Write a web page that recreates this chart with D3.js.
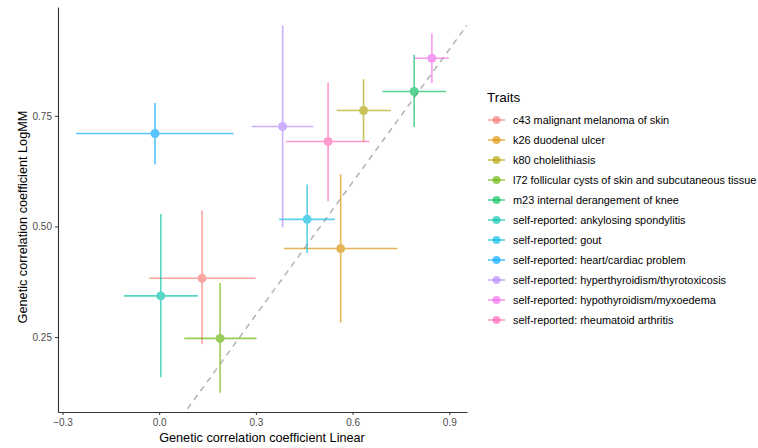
<!doctype html>
<html lang="en">
<head>
<meta charset="utf-8">
<title>Genetic correlation LogMM vs Linear</title>
<script src="https://cdn.jsdelivr.net/npm/d3@7"></script>
<style>
  body { margin: 0; background: #fff; }
  text { font-family: "Liberation Sans", Arial, sans-serif; }
  .tick text { fill: #4d4d4d; font-size: 10px; }
  .tick line { stroke: #333; }
  .domain { stroke: #333; stroke-width: 1.1px; }
</style>
</head>
<body>
<svg width="758" height="448"></svg>
<script>
// traits in legend order
const traits = [
  "c43 malignant melanoma of skin",
  "k26 duodenal ulcer",
  "k80 cholelithiasis",
  "l72 follicular cysts of skin and subcutaneous tissue",
  "m23 internal derangement of knee",
  "self-reported: ankylosing spondylitis",
  "self-reported: gout",
  "self-reported: heart/cardiac problem",
  "self-reported: hyperthyroidism/thyrotoxicosis",
  "self-reported: hypothyroidism/myxoedema",
  "self-reported: rheumatoid arthritis"
];
const colors = ["#F8766D","#DB8E00","#AEA200","#64B200","#00BD5C","#00C1A7",
                "#00BADE","#00A6FF","#B385FF","#EF67EB","#FF63B6"];
// linear estimate and its interval
const linear   = [0.133, 0.563, 0.634, 0.189, 0.791, 0.005, 0.459, -0.013, 0.383, 0.846, 0.524];
const linearLo = [-0.031, 0.387, 0.551, 0.078, 0.693, -0.110, 0.372, -0.258, 0.287, 0.791, 0.393];
const linearHi = [0.299, 0.739, 0.719, 0.302, 0.890, 0.120, 0.545, 0.231, 0.478, 0.899, 0.652];
// LogMM estimate and its interval
const logmm   = [0.383, 0.450, 0.762, 0.247, 0.805, 0.343, 0.516, 0.710, 0.726, 0.880, 0.692];
const logmmLo = [0.234, 0.283, 0.691, 0.124, 0.725, 0.159, 0.440, 0.640, 0.498, 0.824, 0.557];
const logmmHi = [0.536, 0.618, 0.833, 0.372, 0.888, 0.528, 0.595, 0.779, 0.954, 0.936, 0.826];

const xTicks = [-0.3, 0, 0.3, 0.6, 0.9];
const yTicks = [0.25, 0.5, 0.75];

const svg = d3.select("svg");
const L = 58, R = 467, T = 7, B = 412;

var x = d3.scaleLinear().domain([-0.314, 0.955]).range([L, R]);
var y = d3.scaleLinear().domain([0.0806, 0.996]).range([B, T]);

var data = traits.map((t, i) => ({
  trait: t, color: colors[i],
  x: linear[i], x0: linearLo[i], x1: linearHi[i],
  y: logmm[i], y0: logmmLo[i], y1: logmmHi[i]
}));

svg.append("clipPath").attr("id", "panel")
  .append("rect").attr("x", L).attr("y", T).attr("width", R - L).attr("height", B - T);

// y = x reference line
var d0 = x.domain()[0], d1 = x.domain()[1];
svg.append("line")
  .attr("clip-path", "url(#panel)")
  .attr("x1", x(d0)).attr("y1", y(d0))
  .attr("x2", x(d1)).attr("y2", y(d1))
  .style("stroke", "#b3b3b3").style("stroke-width", 1.5)
  .style("stroke-dasharray", "6,5");

var g = svg.append("g").selectAll("g").data(data).enter().append("g")
  .style("opacity", 0.65);
g.append("line")
  .attr("x1", d => x(d.x0)).attr("x2", d => x(d.x1))
  .attr("y1", d => y(d.y)).attr("y2", d => y(d.y))
  .style("stroke", d => d.color).style("stroke-width", 1.6);
g.append("line")
  .attr("x1", d => x(d.x)).attr("x2", d => x(d.x))
  .attr("y1", d => y(d.y0)).attr("y2", d => y(d.y1))
  .style("stroke", d => d.color).style("stroke-width", 1.6);
g.append("circle")
  .attr("cx", d => x(d.x)).attr("cy", d => y(d.y)).attr("r", 4.5)
  .style("fill", d => d.color);

// axes
svg.append("g").attr("transform", `translate(0,${B})`)
  .call(d3.axisBottom(x).tickValues(xTicks).tickSize(3).tickPadding(4)
    .tickFormat(d3.format(".1f")).tickSizeOuter(0));
svg.append("g").attr("transform", `translate(${L},0)`)
  .call(d3.axisLeft(y).tickValues(yTicks).tickSize(3).tickPadding(3)
    .tickFormat(d3.format(".2f")).tickSizeOuter(0));

svg.append("text").attr("x", 262).attr("y", 441.5)
  .attr("text-anchor", "middle").style("font-size", "12.7px").style("fill", "#000")
  .text("Genetic correlation coefficient Linear");
svg.append("text")
  .attr("transform", "translate(27,217) rotate(-90)")
  .attr("text-anchor", "middle").style("font-size", "12.7px").style("fill", "#000")
  .text("Genetic correlation coefficient LogMM");

// legend
var lg = svg.append("g").attr("transform", "translate(487,0)");
lg.append("text").attr("x", 0).attr("y", 101.5).style("font-size", "13.5px").text("Traits");
var item = lg.selectAll("g.item").data(data).enter().append("g")
  .attr("class", "item")
  .attr("transform", (d, i) => `translate(0,${120 + i * 20})`);
item.append("line").attr("x1", 1).attr("x2", 18)
  .style("stroke", d => d.color).style("stroke-width", 1.6).style("opacity", 0.65);
item.append("circle").attr("cx", 9.5).attr("r", 4)
  .style("fill", d => d.color).style("opacity", 0.65);
item.append("text").attr("x", 26).attr("y", 3.8)
  .style("font-size", "10.9px").style("fill", "#000")
  .text(d => d.trait);
</script>
</body>
</html>
